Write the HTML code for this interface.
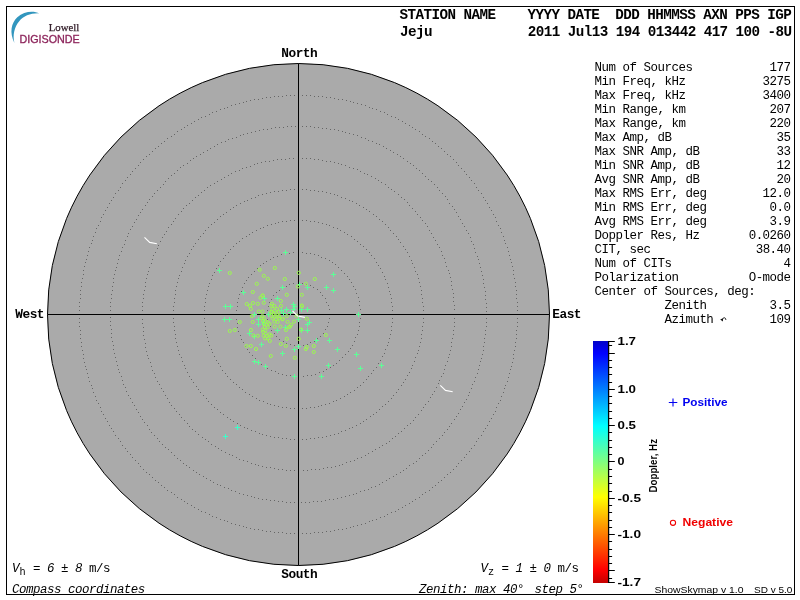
<!DOCTYPE html>
<html lang="en"><head><meta charset="utf-8"><title>Skymap - Jeju</title>
<style>html,body{margin:0;padding:0;background:#fff;width:800px;height:600px;overflow:hidden}svg{display:block;will-change:transform;opacity:0.9999}.m{font-family:"Liberation Mono",monospace}.s{font-family:"Liberation Sans",sans-serif}.r{font-family:"Liberation Serif",serif}</style></head><body>
<svg width="800" height="600" viewBox="0 0 800 600">
<defs><linearGradient id="jet" x1="0" y1="0" x2="0" y2="1">
<stop offset="0" stop-color="#0000c8"/>
<stop offset="0.05" stop-color="#0000ff"/>
<stop offset="0.352" stop-color="#00ffff"/>
<stop offset="0.5" stop-color="#80ff80"/>
<stop offset="0.645" stop-color="#ffff00"/>
<stop offset="0.945" stop-color="#ff0000"/>
<stop offset="1" stop-color="#c40000"/>
</linearGradient></defs>
<rect x="0" y="0" width="800" height="600" fill="#ffffff"/>
<rect x="6.5" y="6.5" width="788" height="588" fill="none" stroke="#000" stroke-width="1"/>
<circle cx="298.5" cy="314.5" r="251.0" fill="#aaaaaa" stroke="#000" stroke-width="1"/>
<path d="M329 314.5h1M329 318.5h1M328 322.5h1M327 326.5h1M325 329.5h1M323 333.5h1M320 336.5h1M317 338.5h1M314 341.5h1M310 342.5h1M307 344.5h1M303 345.5h1M298 345.5h1M294 345.5h1M290 344.5h1M286 343.5h1M283 341.5h1M279 339.5h1M276 336.5h1M274 333.5h1M271 330.5h1M270 326.5h1M268 323.5h1M267 319.5h1M267 314.5h1M267 310.5h1M268 306.5h1M269 302.5h1M271 299.5h1M273 295.5h1M276 292.5h1M279 290.5h1M282 287.5h1M286 286.5h1M289 284.5h1M293 283.5h1M298 283.5h1M302 283.5h1M306 284.5h1M310 285.5h1M313 287.5h1M317 289.5h1M320 292.5h1M322 295.5h1M325 298.5h1M326 302.5h1M328 305.5h1M329 309.5h1M360 314.5h1M360 318.5h1M359 322.5h1M359 326.5h1M358 330.5h1M357 334.5h1M355 337.5h1M354 341.5h1M352 345.5h1M350 348.5h1M348 351.5h1M345 354.5h1M342 357.5h1M339 360.5h1M336 363.5h1M333 365.5h1M330 367.5h1M326 369.5h1M323 371.5h1M319 372.5h1M315 374.5h1M311 375.5h1M307 375.5h1M303 376.5h1M298 376.5h1M294 376.5h1M290 375.5h1M286 375.5h1M282 374.5h1M278 373.5h1M275 371.5h1M271 370.5h1M267 368.5h1M264 366.5h1M261 364.5h1M258 361.5h1M255 358.5h1M252 355.5h1M249 352.5h1M247 349.5h1M245 346.5h1M243 342.5h1M241 339.5h1M240 335.5h1M238 331.5h1M237 327.5h1M237 323.5h1M236 319.5h1M236 314.5h1M236 310.5h1M237 306.5h1M237 302.5h1M238 298.5h1M239 294.5h1M241 291.5h1M242 287.5h1M244 283.5h1M246 280.5h1M248 277.5h1M251 274.5h1M254 271.5h1M257 268.5h1M260 265.5h1M263 263.5h1M266 261.5h1M270 259.5h1M273 257.5h1M277 256.5h1M281 254.5h1M285 253.5h1M289 253.5h1M293 252.5h1M298 252.5h1M302 252.5h1M306 253.5h1M310 253.5h1M314 254.5h1M318 255.5h1M321 257.5h1M325 258.5h1M329 260.5h1M332 262.5h1M335 264.5h1M338 267.5h1M341 270.5h1M344 273.5h1M347 276.5h1M349 279.5h1M351 282.5h1M353 286.5h1M355 289.5h1M356 293.5h1M358 297.5h1M359 301.5h1M359 305.5h1M360 309.5h1M392 314.5h1M392 318.5h1M392 322.5h1M391 326.5h1M391 330.5h1M390 334.5h1M389 338.5h1M388 342.5h1M387 345.5h1M385 349.5h1M384 353.5h1M382 356.5h1M380 360.5h1M378 363.5h1M376 367.5h1M373 370.5h1M371 373.5h1M368 376.5h1M366 379.5h1M363 382.5h1M360 385.5h1M357 387.5h1M354 390.5h1M350 392.5h1M347 394.5h1M344 396.5h1M340 398.5h1M336 400.5h1M333 401.5h1M329 403.5h1M325 404.5h1M321 405.5h1M318 406.5h1M314 407.5h1M310 407.5h1M306 408.5h1M302 408.5h1M298 408.5h1M294 408.5h1M290 408.5h1M286 407.5h1M282 407.5h1M278 406.5h1M274 405.5h1M270 404.5h1M267 403.5h1M263 401.5h1M259 400.5h1M256 398.5h1M252 396.5h1M249 394.5h1M245 392.5h1M242 389.5h1M239 387.5h1M236 384.5h1M233 382.5h1M230 379.5h1M227 376.5h1M225 373.5h1M222 370.5h1M220 366.5h1M218 363.5h1M216 360.5h1M214 356.5h1M212 352.5h1M211 349.5h1M209 345.5h1M208 341.5h1M207 337.5h1M206 334.5h1M205 330.5h1M205 326.5h1M204 322.5h1M204 318.5h1M204 314.5h1M204 310.5h1M204 306.5h1M205 302.5h1M205 298.5h1M206 294.5h1M207 290.5h1M208 286.5h1M209 283.5h1M211 279.5h1M212 275.5h1M214 272.5h1M216 268.5h1M218 265.5h1M220 261.5h1M223 258.5h1M225 255.5h1M228 252.5h1M230 249.5h1M233 246.5h1M236 243.5h1M239 241.5h1M242 238.5h1M246 236.5h1M249 234.5h1M252 232.5h1M256 230.5h1M260 228.5h1M263 227.5h1M267 225.5h1M271 224.5h1M275 223.5h1M278 222.5h1M282 221.5h1M286 221.5h1M290 220.5h1M294 220.5h1M298 220.5h1M302 220.5h1M306 220.5h1M310 221.5h1M314 221.5h1M318 222.5h1M322 223.5h1M326 224.5h1M329 225.5h1M333 227.5h1M337 228.5h1M340 230.5h1M344 232.5h1M347 234.5h1M351 236.5h1M354 239.5h1M357 241.5h1M360 244.5h1M363 246.5h1M366 249.5h1M369 252.5h1M371 255.5h1M374 258.5h1M376 262.5h1M378 265.5h1M380 268.5h1M382 272.5h1M384 276.5h1M385 279.5h1M387 283.5h1M388 287.5h1M389 291.5h1M390 294.5h1M391 298.5h1M391 302.5h1M392 306.5h1M392 310.5h1M423 314.5h1M423 318.5h1M423 322.5h1M422 326.5h1M422 330.5h1M421 334.5h1M421 338.5h1M420 342.5h1M419 346.5h1M418 350.5h1M417 353.5h1M415 357.5h1M414 361.5h1M412 365.5h1M411 368.5h1M409 372.5h1M407 375.5h1M405 379.5h1M403 382.5h1M401 385.5h1M398 389.5h1M396 392.5h1M393 395.5h1M391 398.5h1M388 401.5h1M385 404.5h1M382 406.5h1M379 409.5h1M376 412.5h1M373 414.5h1M370 416.5h1M366 419.5h1M363 421.5h1M360 423.5h1M356 425.5h1M352 427.5h1M349 428.5h1M345 430.5h1M341 431.5h1M338 433.5h1M334 434.5h1M330 435.5h1M326 436.5h1M322 437.5h1M318 437.5h1M314 438.5h1M310 438.5h1M306 439.5h1M302 439.5h1M298 439.5h1M294 439.5h1M290 439.5h1M286 438.5h1M282 438.5h1M278 437.5h1M274 437.5h1M270 436.5h1M266 435.5h1M262 434.5h1M259 433.5h1M255 431.5h1M251 430.5h1M247 428.5h1M244 427.5h1M240 425.5h1M237 423.5h1M233 421.5h1M230 419.5h1M227 417.5h1M223 414.5h1M220 412.5h1M217 409.5h1M214 407.5h1M211 404.5h1M208 401.5h1M206 398.5h1M203 395.5h1M200 392.5h1M198 389.5h1M196 386.5h1M193 382.5h1M191 379.5h1M189 376.5h1M187 372.5h1M185 368.5h1M184 365.5h1M182 361.5h1M181 357.5h1M179 354.5h1M178 350.5h1M177 346.5h1M176 342.5h1M175 338.5h1M175 334.5h1M174 330.5h1M174 326.5h1M173 322.5h1M173 318.5h1M173 314.5h1M173 310.5h1M173 306.5h1M174 302.5h1M174 298.5h1M175 294.5h1M175 290.5h1M176 286.5h1M177 282.5h1M178 278.5h1M179 275.5h1M181 271.5h1M182 267.5h1M184 263.5h1M185 260.5h1M187 256.5h1M189 253.5h1M191 249.5h1M193 246.5h1M195 243.5h1M198 239.5h1M200 236.5h1M203 233.5h1M205 230.5h1M208 227.5h1M211 224.5h1M214 222.5h1M217 219.5h1M220 216.5h1M223 214.5h1M226 212.5h1M230 209.5h1M233 207.5h1M236 205.5h1M240 203.5h1M244 201.5h1M247 200.5h1M251 198.5h1M255 197.5h1M258 195.5h1M262 194.5h1M266 193.5h1M270 192.5h1M274 191.5h1M278 191.5h1M282 190.5h1M286 190.5h1M290 189.5h1M294 189.5h1M298 189.5h1M302 189.5h1M306 189.5h1M310 190.5h1M314 190.5h1M318 191.5h1M322 191.5h1M326 192.5h1M330 193.5h1M334 194.5h1M337 195.5h1M341 197.5h1M345 198.5h1M349 200.5h1M352 201.5h1M356 203.5h1M359 205.5h1M363 207.5h1M366 209.5h1M369 211.5h1M373 214.5h1M376 216.5h1M379 219.5h1M382 221.5h1M385 224.5h1M388 227.5h1M390 230.5h1M393 233.5h1M396 236.5h1M398 239.5h1M400 242.5h1M403 246.5h1M405 249.5h1M407 252.5h1M409 256.5h1M411 260.5h1M412 263.5h1M414 267.5h1M415 271.5h1M417 274.5h1M418 278.5h1M419 282.5h1M420 286.5h1M421 290.5h1M421 294.5h1M422 298.5h1M422 302.5h1M423 306.5h1M423 310.5h1M454 314.5h1M454 318.5h1M454 322.5h1M454 326.5h1M453 330.5h1M453 334.5h1M452 338.5h1M451 342.5h1M451 346.5h1M450 350.5h1M449 354.5h1M448 357.5h1M447 361.5h1M445 365.5h1M444 369.5h1M443 373.5h1M441 376.5h1M439 380.5h1M438 383.5h1M436 387.5h1M434 391.5h1M432 394.5h1M430 397.5h1M428 401.5h1M425 404.5h1M423 407.5h1M421 410.5h1M418 414.5h1M415 417.5h1M413 420.5h1M410 423.5h1M407 425.5h1M404 428.5h1M401 431.5h1M398 433.5h1M395 436.5h1M392 438.5h1M389 441.5h1M386 443.5h1M382 445.5h1M379 447.5h1M375 449.5h1M372 451.5h1M368 453.5h1M365 455.5h1M361 457.5h1M357 458.5h1M354 460.5h1M350 461.5h1M346 462.5h1M342 464.5h1M339 465.5h1M335 466.5h1M331 467.5h1M327 467.5h1M323 468.5h1M319 469.5h1M315 469.5h1M311 469.5h1M307 470.5h1M303 470.5h1M298 470.5h1M294 470.5h1M290 470.5h1M286 470.5h1M282 469.5h1M278 469.5h1M274 468.5h1M270 467.5h1M266 467.5h1M262 466.5h1M258 465.5h1M255 464.5h1M251 463.5h1M247 461.5h1M243 460.5h1M239 459.5h1M236 457.5h1M232 455.5h1M229 454.5h1M225 452.5h1M221 450.5h1M218 448.5h1M215 446.5h1M211 444.5h1M208 441.5h1M205 439.5h1M202 437.5h1M198 434.5h1M195 431.5h1M192 429.5h1M189 426.5h1M187 423.5h1M184 420.5h1M181 417.5h1M179 414.5h1M176 411.5h1M174 408.5h1M171 405.5h1M169 402.5h1M167 398.5h1M165 395.5h1M163 391.5h1M161 388.5h1M159 384.5h1M157 381.5h1M155 377.5h1M154 373.5h1M152 370.5h1M151 366.5h1M150 362.5h1M148 358.5h1M147 355.5h1M146 351.5h1M145 347.5h1M145 343.5h1M144 339.5h1M143 335.5h1M143 331.5h1M143 327.5h1M142 323.5h1M142 319.5h1M142 314.5h1M142 310.5h1M142 306.5h1M142 302.5h1M143 298.5h1M143 294.5h1M144 290.5h1M145 286.5h1M145 282.5h1M146 278.5h1M147 274.5h1M148 271.5h1M149 267.5h1M151 263.5h1M152 259.5h1M153 255.5h1M155 252.5h1M157 248.5h1M158 245.5h1M160 241.5h1M162 237.5h1M164 234.5h1M166 231.5h1M168 227.5h1M171 224.5h1M173 221.5h1M175 218.5h1M178 214.5h1M181 211.5h1M183 208.5h1M186 205.5h1M189 203.5h1M192 200.5h1M195 197.5h1M198 195.5h1M201 192.5h1M204 190.5h1M207 187.5h1M210 185.5h1M214 183.5h1M217 181.5h1M221 179.5h1M224 177.5h1M228 175.5h1M231 173.5h1M235 171.5h1M239 170.5h1M242 168.5h1M246 167.5h1M250 166.5h1M254 164.5h1M257 163.5h1M261 162.5h1M265 161.5h1M269 161.5h1M273 160.5h1M277 159.5h1M281 159.5h1M285 159.5h1M289 158.5h1M293 158.5h1M298 158.5h1M302 158.5h1M306 158.5h1M310 158.5h1M314 159.5h1M318 159.5h1M322 160.5h1M326 161.5h1M330 161.5h1M334 162.5h1M338 163.5h1M341 164.5h1M345 165.5h1M349 167.5h1M353 168.5h1M357 169.5h1M360 171.5h1M364 173.5h1M367 174.5h1M371 176.5h1M375 178.5h1M378 180.5h1M381 182.5h1M385 184.5h1M388 187.5h1M391 189.5h1M394 191.5h1M398 194.5h1M401 197.5h1M404 199.5h1M407 202.5h1M409 205.5h1M412 208.5h1M415 211.5h1M417 214.5h1M420 217.5h1M422 220.5h1M425 223.5h1M427 226.5h1M429 230.5h1M431 233.5h1M433 237.5h1M435 240.5h1M437 244.5h1M439 247.5h1M441 251.5h1M442 255.5h1M444 258.5h1M445 262.5h1M446 266.5h1M448 270.5h1M449 273.5h1M450 277.5h1M451 281.5h1M451 285.5h1M452 289.5h1M453 293.5h1M453 297.5h1M453 301.5h1M454 305.5h1M454 309.5h1M486 314.5h1M486 318.5h1M486 322.5h1M486 326.5h1M485 330.5h1M485 334.5h1M484 338.5h1M484 342.5h1M483 346.5h1M483 350.5h1M482 354.5h1M481 358.5h1M480 361.5h1M479 365.5h1M478 369.5h1M477 373.5h1M475 377.5h1M474 381.5h1M472 384.5h1M471 388.5h1M469 392.5h1M468 395.5h1M466 399.5h1M464 402.5h1M462 406.5h1M460 409.5h1M458 413.5h1M456 416.5h1M454 419.5h1M451 423.5h1M449 426.5h1M447 429.5h1M444 432.5h1M442 435.5h1M439 438.5h1M436 441.5h1M433 444.5h1M431 447.5h1M428 450.5h1M425 453.5h1M422 455.5h1M419 458.5h1M416 461.5h1M413 463.5h1M409 465.5h1M406 468.5h1M403 470.5h1M400 472.5h1M396 474.5h1M393 476.5h1M389 478.5h1M386 480.5h1M382 482.5h1M379 484.5h1M375 486.5h1M371 487.5h1M368 489.5h1M364 490.5h1M360 491.5h1M356 493.5h1M353 494.5h1M349 495.5h1M345 496.5h1M341 497.5h1M337 498.5h1M333 499.5h1M329 499.5h1M325 500.5h1M321 501.5h1M317 501.5h1M313 501.5h1M309 502.5h1M305 502.5h1M301 502.5h1M298 502.5h1M294 502.5h1M290 502.5h1M286 502.5h1M282 501.5h1M278 501.5h1M274 500.5h1M270 500.5h1M266 499.5h1M262 499.5h1M258 498.5h1M254 497.5h1M251 496.5h1M247 495.5h1M243 494.5h1M239 493.5h1M235 491.5h1M231 490.5h1M228 488.5h1M224 487.5h1M220 485.5h1M217 484.5h1M213 482.5h1M210 480.5h1M206 478.5h1M203 476.5h1M199 474.5h1M196 472.5h1M193 470.5h1M189 467.5h1M186 465.5h1M183 463.5h1M180 460.5h1M177 458.5h1M174 455.5h1M171 452.5h1M168 449.5h1M165 447.5h1M162 444.5h1M159 441.5h1M157 438.5h1M154 435.5h1M151 432.5h1M149 429.5h1M147 425.5h1M144 422.5h1M142 419.5h1M140 416.5h1M138 412.5h1M136 409.5h1M134 405.5h1M132 402.5h1M130 398.5h1M128 395.5h1M126 391.5h1M125 387.5h1M123 384.5h1M122 380.5h1M121 376.5h1M119 372.5h1M118 369.5h1M117 365.5h1M116 361.5h1M115 357.5h1M114 353.5h1M113 349.5h1M113 345.5h1M112 341.5h1M111 337.5h1M111 333.5h1M111 329.5h1M110 325.5h1M110 321.5h1M110 317.5h1M110 314.5h1M110 310.5h1M110 306.5h1M110 302.5h1M111 298.5h1M111 294.5h1M112 290.5h1M112 286.5h1M113 282.5h1M113 278.5h1M114 274.5h1M115 270.5h1M116 267.5h1M117 263.5h1M118 259.5h1M119 255.5h1M121 251.5h1M122 247.5h1M124 244.5h1M125 240.5h1M127 236.5h1M128 233.5h1M130 229.5h1M132 226.5h1M134 222.5h1M136 219.5h1M138 215.5h1M140 212.5h1M142 209.5h1M145 205.5h1M147 202.5h1M149 199.5h1M152 196.5h1M154 193.5h1M157 190.5h1M160 187.5h1M163 184.5h1M165 181.5h1M168 178.5h1M171 175.5h1M174 173.5h1M177 170.5h1M180 167.5h1M183 165.5h1M187 163.5h1M190 160.5h1M193 158.5h1M196 156.5h1M200 154.5h1M203 152.5h1M207 150.5h1M210 148.5h1M214 146.5h1M217 144.5h1M221 142.5h1M225 141.5h1M228 139.5h1M232 138.5h1M236 137.5h1M240 135.5h1M243 134.5h1M247 133.5h1M251 132.5h1M255 131.5h1M259 130.5h1M263 129.5h1M267 129.5h1M271 128.5h1M275 127.5h1M279 127.5h1M283 127.5h1M287 126.5h1M291 126.5h1M295 126.5h1M298 126.5h1M302 126.5h1M306 126.5h1M310 126.5h1M314 127.5h1M318 127.5h1M322 128.5h1M326 128.5h1M330 129.5h1M334 129.5h1M338 130.5h1M342 131.5h1M345 132.5h1M349 133.5h1M353 134.5h1M357 135.5h1M361 137.5h1M365 138.5h1M368 140.5h1M372 141.5h1M376 143.5h1M379 144.5h1M383 146.5h1M386 148.5h1M390 150.5h1M393 152.5h1M397 154.5h1M400 156.5h1M403 158.5h1M407 161.5h1M410 163.5h1M413 165.5h1M416 168.5h1M419 170.5h1M422 173.5h1M425 176.5h1M428 179.5h1M431 181.5h1M434 184.5h1M437 187.5h1M439 190.5h1M442 193.5h1M445 196.5h1M447 199.5h1M449 203.5h1M452 206.5h1M454 209.5h1M456 212.5h1M458 216.5h1M460 219.5h1M462 223.5h1M464 226.5h1M466 230.5h1M468 233.5h1M470 237.5h1M471 241.5h1M473 244.5h1M474 248.5h1M475 252.5h1M477 256.5h1M478 259.5h1M479 263.5h1M480 267.5h1M481 271.5h1M482 275.5h1M483 279.5h1M483 283.5h1M484 287.5h1M485 291.5h1M485 295.5h1M485 299.5h1M486 303.5h1M486 307.5h1M486 311.5h1M517 314.5h1M517 318.5h1M517 322.5h1M517 326.5h1M516 330.5h1M516 334.5h1M516 338.5h1M515 342.5h1M515 346.5h1M514 350.5h1M513 354.5h1M513 358.5h1M512 362.5h1M511 366.5h1M510 369.5h1M509 373.5h1M508 377.5h1M507 381.5h1M505 385.5h1M504 388.5h1M503 392.5h1M501 396.5h1M500 400.5h1M498 403.5h1M496 407.5h1M495 411.5h1M493 414.5h1M491 418.5h1M489 421.5h1M487 425.5h1M485 428.5h1M483 431.5h1M481 435.5h1M478 438.5h1M476 441.5h1M474 445.5h1M471 448.5h1M469 451.5h1M466 454.5h1M464 457.5h1M461 460.5h1M458 463.5h1M456 466.5h1M453 469.5h1M450 472.5h1M447 474.5h1M444 477.5h1M441 480.5h1M438 482.5h1M435 485.5h1M432 487.5h1M429 490.5h1M425 492.5h1M422 494.5h1M419 497.5h1M415 499.5h1M412 501.5h1M409 503.5h1M405 505.5h1M402 507.5h1M398 509.5h1M395 511.5h1M391 512.5h1M387 514.5h1M384 516.5h1M380 517.5h1M376 519.5h1M372 520.5h1M369 521.5h1M365 523.5h1M361 524.5h1M357 525.5h1M353 526.5h1M350 527.5h1M346 528.5h1M342 529.5h1M338 529.5h1M334 530.5h1M330 531.5h1M326 531.5h1M322 532.5h1M318 532.5h1M314 532.5h1M310 533.5h1M306 533.5h1M302 533.5h1M298 533.5h1M294 533.5h1M290 533.5h1M286 533.5h1M282 532.5h1M278 532.5h1M274 532.5h1M270 531.5h1M266 531.5h1M262 530.5h1M258 529.5h1M254 529.5h1M250 528.5h1M246 527.5h1M243 526.5h1M239 525.5h1M235 524.5h1M231 523.5h1M227 521.5h1M224 520.5h1M220 519.5h1M216 517.5h1M212 516.5h1M209 514.5h1M205 512.5h1M201 511.5h1M198 509.5h1M194 507.5h1M191 505.5h1M187 503.5h1M184 501.5h1M181 499.5h1M177 497.5h1M174 494.5h1M171 492.5h1M167 490.5h1M164 487.5h1M161 485.5h1M158 482.5h1M155 480.5h1M152 477.5h1M149 474.5h1M146 472.5h1M143 469.5h1M140 466.5h1M138 463.5h1M135 460.5h1M132 457.5h1M130 454.5h1M127 451.5h1M125 448.5h1M122 445.5h1M120 441.5h1M118 438.5h1M115 435.5h1M113 431.5h1M111 428.5h1M109 425.5h1M107 421.5h1M105 418.5h1M103 414.5h1M101 411.5h1M100 407.5h1M98 403.5h1M96 400.5h1M95 396.5h1M93 392.5h1M92 388.5h1M91 385.5h1M89 381.5h1M88 377.5h1M87 373.5h1M86 369.5h1M85 366.5h1M84 362.5h1M83 358.5h1M83 354.5h1M82 350.5h1M81 346.5h1M81 342.5h1M80 338.5h1M80 334.5h1M80 330.5h1M79 326.5h1M79 322.5h1M79 318.5h1M79 314.5h1M79 310.5h1M79 306.5h1M79 302.5h1M80 298.5h1M80 294.5h1M80 290.5h1M81 286.5h1M81 282.5h1M82 278.5h1M83 274.5h1M83 270.5h1M84 266.5h1M85 262.5h1M86 259.5h1M87 255.5h1M88 251.5h1M89 247.5h1M91 243.5h1M92 240.5h1M93 236.5h1M95 232.5h1M96 228.5h1M98 225.5h1M100 221.5h1M101 217.5h1M103 214.5h1M105 210.5h1M107 207.5h1M109 203.5h1M111 200.5h1M113 197.5h1M115 193.5h1M118 190.5h1M120 187.5h1M122 183.5h1M125 180.5h1M127 177.5h1M130 174.5h1M132 171.5h1M135 168.5h1M138 165.5h1M140 162.5h1M143 159.5h1M146 156.5h1M149 154.5h1M152 151.5h1M155 148.5h1M158 146.5h1M161 143.5h1M164 141.5h1M167 138.5h1M171 136.5h1M174 134.5h1M177 131.5h1M181 129.5h1M184 127.5h1M187 125.5h1M191 123.5h1M194 121.5h1M198 119.5h1M201 117.5h1M205 116.5h1M209 114.5h1M212 112.5h1M216 111.5h1M220 109.5h1M224 108.5h1M227 107.5h1M231 105.5h1M235 104.5h1M239 103.5h1M243 102.5h1M246 101.5h1M250 100.5h1M254 99.5h1M258 99.5h1M262 98.5h1M266 97.5h1M270 97.5h1M274 96.5h1M278 96.5h1M282 96.5h1M286 95.5h1M290 95.5h1M294 95.5h1M298 95.5h1M302 95.5h1M306 95.5h1M310 95.5h1M314 96.5h1M318 96.5h1M322 96.5h1M326 97.5h1M330 97.5h1M334 98.5h1M338 99.5h1M342 99.5h1M346 100.5h1M350 101.5h1M353 102.5h1M357 103.5h1M361 104.5h1M365 105.5h1M369 107.5h1M372 108.5h1M376 109.5h1M380 111.5h1M384 112.5h1M387 114.5h1M391 116.5h1M395 117.5h1M398 119.5h1M402 121.5h1M405 123.5h1M409 125.5h1M412 127.5h1M415 129.5h1M419 131.5h1M422 134.5h1M425 136.5h1M429 138.5h1M432 141.5h1M435 143.5h1M438 146.5h1M441 148.5h1M444 151.5h1M447 154.5h1M450 156.5h1M453 159.5h1M456 162.5h1M458 165.5h1M461 168.5h1M464 171.5h1M466 174.5h1M469 177.5h1M471 180.5h1M474 183.5h1M476 187.5h1M478 190.5h1M481 193.5h1M483 197.5h1M485 200.5h1M487 203.5h1M489 207.5h1M491 210.5h1M493 214.5h1M495 217.5h1M496 221.5h1M498 225.5h1M500 228.5h1M501 232.5h1M503 236.5h1M504 240.5h1M505 243.5h1M507 247.5h1M508 251.5h1M509 255.5h1M510 259.5h1M511 262.5h1M512 266.5h1M513 270.5h1M513 274.5h1M514 278.5h1M515 282.5h1M515 286.5h1M516 290.5h1M516 294.5h1M516 298.5h1M517 302.5h1M517 306.5h1M517 310.5h1" stroke="#666666" stroke-width="1" fill="none" shape-rendering="crispEdges"/>
<line x1="298.5" y1="63.5" x2="298.5" y2="565.5" stroke="#000" stroke-width="1"/>
<line x1="47.5" y1="314.5" x2="549.5" y2="314.5" stroke="#000" stroke-width="1"/>
<path d="M217.0 270.5h5M219.5 268.0v5M283.0 252.5h5M285.5 250.0v5M280.0 287.5h5M282.5 285.0v5M241.0 292.5h5M243.5 290.0v5M262.0 298.5h5M264.5 296.0v5M275.0 298.5h5M277.5 296.0v5M331.0 274.5h5M333.5 272.0v5M297.0 284.5h5M299.5 282.0v5M305.0 287.5h5M307.5 285.0v5M324.0 287.5h5M326.5 285.0v5M331.0 290.5h5M333.5 288.0v5M223.0 306.5h5M225.5 304.0v5M228.0 306.5h5M230.5 304.0v5M222.0 319.5h5M224.5 317.0v5M227.0 319.5h5M229.5 317.0v5M252.0 314.5h5M254.5 312.0v5M256.0 319.5h5M258.5 317.0v5M256.0 324.5h5M258.5 322.0v5M247.0 333.5h5M249.5 331.0v5M252.0 336.5h5M254.5 334.0v5M259.0 344.5h5M261.5 342.0v5M280.0 353.5h5M282.5 351.0v5M291.0 304.5h5M293.5 302.0v5M292.0 306.5h5M294.5 304.0v5M284.0 309.5h5M286.5 307.0v5M291.0 309.5h5M293.5 307.0v5M279.0 310.5h5M281.5 308.0v5M288.0 312.5h5M290.5 310.0v5M281.0 313.5h5M283.5 311.0v5M299.0 309.5h5M301.5 307.0v5M305.0 309.5h5M307.5 307.0v5M356.0 314.5h5M358.5 312.0v5M296.0 319.5h5M298.5 317.0v5M307.0 322.5h5M309.5 320.0v5M305.0 324.5h5M307.5 322.0v5M299.0 330.5h5M301.5 328.0v5M305.0 330.5h5M307.5 328.0v5M314.0 340.5h5M316.5 338.0v5M327.0 340.5h5M329.5 338.0v5M296.0 346.5h5M298.5 344.0v5M292.0 349.5h5M294.5 347.0v5M335.0 349.5h5M337.5 347.0v5M354.0 354.5h5M356.5 352.0v5M275.0 330.5h5M277.5 328.0v5M283.0 327.5h5M285.5 325.0v5M252.0 361.5h5M254.5 359.0v5M256.0 362.5h5M258.5 360.0v5M263.0 366.5h5M265.5 364.0v5M292.0 376.5h5M294.5 374.0v5M326.0 365.5h5M328.5 363.0v5M358.0 368.5h5M360.5 366.0v5M379.0 365.5h5M381.5 363.0v5M319.0 376.5h5M321.5 374.0v5M266.0 314.5h5M268.5 312.0v5M261.0 322.5h5M263.5 320.0v5" stroke="#5cff96" stroke-width="1" fill="none" shape-rendering="crispEdges"/>
<path d="M235.0 427.5h5M237.5 425.0v5M223.0 436.5h5M225.5 434.0v5" stroke="#3cffc8" stroke-width="1" fill="none" shape-rendering="crispEdges"/>
<g fill="none" stroke="#9cf752" stroke-width="1">
<circle cx="229.8" cy="273.0" r="1.6"/>
<circle cx="259.7" cy="269.8" r="1.6"/>
<circle cx="274.8" cy="268.0" r="1.6"/>
<circle cx="263.8" cy="275.8" r="1.6"/>
<circle cx="267.8" cy="278.8" r="1.6"/>
<circle cx="284.8" cy="279.0" r="1.6"/>
<circle cx="256.8" cy="283.8" r="1.6"/>
<circle cx="252.8" cy="292.0" r="1.6"/>
<circle cx="286.8" cy="294.8" r="1.6"/>
<circle cx="262.5" cy="295.5" r="1.6"/>
<circle cx="260.5" cy="297.8" r="1.6"/>
<circle cx="298.8" cy="272.8" r="1.6"/>
<circle cx="314.8" cy="279.0" r="1.6"/>
<circle cx="305.8" cy="283.7" r="1.6"/>
<circle cx="297.8" cy="286.5" r="1.6"/>
<circle cx="301.8" cy="294.8" r="1.6"/>
<circle cx="239.8" cy="322.0" r="1.6"/>
<circle cx="229.8" cy="331.0" r="1.6"/>
<circle cx="234.8" cy="330.0" r="1.6"/>
<circle cx="246.8" cy="304.0" r="1.6"/>
<circle cx="253.0" cy="303.0" r="1.6"/>
<circle cx="250.8" cy="308.8" r="1.6"/>
<circle cx="257.8" cy="303.8" r="1.6"/>
<circle cx="263.8" cy="302.8" r="1.6"/>
<circle cx="280.8" cy="301.0" r="1.6"/>
<circle cx="258.8" cy="311.5" r="1.6"/>
<circle cx="262.5" cy="311.5" r="1.6"/>
<circle cx="251.8" cy="316.0" r="1.6"/>
<circle cx="252.8" cy="322.0" r="1.6"/>
<circle cx="251.0" cy="330.0" r="1.6"/>
<circle cx="253.5" cy="335.5" r="1.6"/>
<circle cx="257.8" cy="335.8" r="1.6"/>
<circle cx="246.5" cy="346.0" r="1.6"/>
<circle cx="250.8" cy="346.0" r="1.6"/>
<circle cx="256.0" cy="349.0" r="1.6"/>
<circle cx="280.8" cy="344.0" r="1.6"/>
<circle cx="285.8" cy="345.8" r="1.6"/>
<circle cx="286.8" cy="338.8" r="1.6"/>
<circle cx="269.8" cy="341.0" r="1.6"/>
<circle cx="272.0" cy="303.8" r="1.6"/>
<circle cx="271.4" cy="305.9" r="1.6"/>
<circle cx="274.4" cy="305.9" r="1.6"/>
<circle cx="281.0" cy="305.9" r="1.6"/>
<circle cx="277.1" cy="308.9" r="1.6"/>
<circle cx="272.6" cy="308.9" r="1.6"/>
<circle cx="272.0" cy="311.9" r="1.6"/>
<circle cx="302.0" cy="306.2" r="1.6"/>
<circle cx="296.6" cy="315.8" r="1.6"/>
<circle cx="286.7" cy="316.1" r="1.6"/>
<circle cx="282.8" cy="319.1" r="1.6"/>
<circle cx="287.6" cy="321.8" r="1.6"/>
<circle cx="290.0" cy="326.6" r="1.6"/>
<circle cx="288.8" cy="327.2" r="1.6"/>
<circle cx="280.4" cy="326.6" r="1.6"/>
<circle cx="274.7" cy="326.6" r="1.6"/>
<circle cx="301.1" cy="329.6" r="1.6"/>
<circle cx="301.8" cy="305.5" r="1.6"/>
<circle cx="306.8" cy="318.8" r="1.6"/>
<circle cx="325.8" cy="335.0" r="1.6"/>
<circle cx="298.8" cy="338.8" r="1.6"/>
<circle cx="306.8" cy="347.0" r="1.6"/>
<circle cx="305.8" cy="349.0" r="1.6"/>
<circle cx="313.8" cy="346.0" r="1.6"/>
<circle cx="313.8" cy="352.0" r="1.6"/>
<circle cx="270.8" cy="356.0" r="1.6"/>
<circle cx="294.8" cy="357.8" r="1.6"/>
<circle cx="286.0" cy="330.0" r="1.6"/>
<circle cx="262.4" cy="316.0" r="1.6"/>
<circle cx="264.0" cy="318.4" r="1.6"/>
<circle cx="263.2" cy="320.8" r="1.6"/>
<circle cx="265.6" cy="321.6" r="1.6"/>
<circle cx="264.0" cy="324.0" r="1.6"/>
<circle cx="266.4" cy="324.8" r="1.6"/>
<circle cx="264.8" cy="327.2" r="1.6"/>
<circle cx="267.6" cy="327.2" r="1.6"/>
<circle cx="262.8" cy="329.6" r="1.6"/>
<circle cx="265.2" cy="330.4" r="1.6"/>
<circle cx="263.2" cy="332.0" r="1.6"/>
<circle cx="265.6" cy="333.6" r="1.6"/>
<circle cx="263.6" cy="335.6" r="1.6"/>
<circle cx="266.8" cy="336.0" r="1.6"/>
<circle cx="269.6" cy="334.4" r="1.6"/>
<circle cx="271.2" cy="335.6" r="1.6"/>
<circle cx="265.2" cy="338.4" r="1.6"/>
<circle cx="268.0" cy="338.4" r="1.6"/>
<circle cx="269.6" cy="324.0" r="1.6"/>
<circle cx="268.0" cy="322.4" r="1.6"/>
<circle cx="261.6" cy="318.4" r="1.6"/>
<circle cx="271.2" cy="312.0" r="1.6"/>
<circle cx="273.6" cy="313.6" r="1.6"/>
<circle cx="276.0" cy="312.8" r="1.6"/>
<circle cx="278.4" cy="312.0" r="1.6"/>
<circle cx="271.6" cy="316.0" r="1.6"/>
<circle cx="274.4" cy="316.8" r="1.6"/>
<circle cx="277.6" cy="316.8" r="1.6"/>
<circle cx="272.8" cy="318.4" r="1.6"/>
<circle cx="276.0" cy="319.2" r="1.6"/>
<circle cx="279.2" cy="318.4" r="1.6"/>
<circle cx="274.4" cy="321.6" r="1.6"/>
<circle cx="277.6" cy="322.0" r="1.6"/>
<circle cx="282.4" cy="319.2" r="1.6"/>
<circle cx="279.2" cy="316.0" r="1.6"/>
<circle cx="262.8" cy="295.6" r="1.6"/>
<circle cx="250.0" cy="306.0" r="1.6"/>
<circle cx="291.2" cy="324.8" r="1.6"/>
<circle cx="294.0" cy="321.6" r="1.6"/>
</g>
<polyline points="144.5,237.3 149.7,242.4 156.9,243.70000000000002" fill="none" stroke="#ffffff" stroke-width="1.1"/>
<polyline points="440.3,385.3 445.5,390.40000000000003 452.7,391.7" fill="none" stroke="#ffffff" stroke-width="1.1"/>
<polyline points="292.5,311.0 297.7,316.1 304.9,317.4" fill="none" stroke="#ffffff" stroke-width="1.1"/>
<text class="m" transform="translate(281.3,57) scale(1,1.035)" text-anchor="start" style="font-size:12.840px;letter-spacing:-0.504px;font-weight:bold;white-space:pre" xml:space="preserve" fill="#000">North</text>
<text class="m" transform="translate(281.3,578) scale(1,1.035)" text-anchor="start" style="font-size:12.840px;letter-spacing:-0.504px;font-weight:bold;white-space:pre" xml:space="preserve" fill="#000">South</text>
<text class="m" transform="translate(15.3,318) scale(1,1.035)" text-anchor="start" style="font-size:12.840px;letter-spacing:-0.504px;font-weight:bold;white-space:pre" xml:space="preserve" fill="#000">West</text>
<text class="m" transform="translate(552.3,318) scale(1,1.035)" text-anchor="start" style="font-size:12.840px;letter-spacing:-0.504px;font-weight:bold;white-space:pre" xml:space="preserve" fill="#000">East</text>
<text class="m" transform="translate(399.6,19) scale(1,1.035)" text-anchor="start" style="font-size:14.267px;letter-spacing:-0.560px;font-weight:bold;white-space:pre" xml:space="preserve" fill="#000">STATION NAME    YYYY DATE  DDD HHMMSS AXN PPS IGP</text>
<text class="m" transform="translate(400,35.7) scale(1,1.035)" text-anchor="start" style="font-size:14.267px;letter-spacing:-0.560px;font-weight:bold;white-space:pre" xml:space="preserve" fill="#000">Jeju            2011 Jul13 194 013442 417 100 -8U</text>
<text class="m" transform="translate(594.5,71) scale(1,1.035)" text-anchor="start" style="font-size:12.483px;letter-spacing:-0.490px;white-space:pre" xml:space="preserve" fill="#000">Num of Sources</text>
<text class="m" transform="translate(790.6,71) scale(1,1.035)" text-anchor="end" style="font-size:12.483px;letter-spacing:-0.490px;white-space:pre" xml:space="preserve" fill="#000">177</text>
<text class="m" transform="translate(594.5,85) scale(1,1.035)" text-anchor="start" style="font-size:12.483px;letter-spacing:-0.490px;white-space:pre" xml:space="preserve" fill="#000">Min Freq, kHz</text>
<text class="m" transform="translate(790.6,85) scale(1,1.035)" text-anchor="end" style="font-size:12.483px;letter-spacing:-0.490px;white-space:pre" xml:space="preserve" fill="#000">3275</text>
<text class="m" transform="translate(594.5,99) scale(1,1.035)" text-anchor="start" style="font-size:12.483px;letter-spacing:-0.490px;white-space:pre" xml:space="preserve" fill="#000">Max Freq, kHz</text>
<text class="m" transform="translate(790.6,99) scale(1,1.035)" text-anchor="end" style="font-size:12.483px;letter-spacing:-0.490px;white-space:pre" xml:space="preserve" fill="#000">3400</text>
<text class="m" transform="translate(594.5,113) scale(1,1.035)" text-anchor="start" style="font-size:12.483px;letter-spacing:-0.490px;white-space:pre" xml:space="preserve" fill="#000">Min Range, km</text>
<text class="m" transform="translate(790.6,113) scale(1,1.035)" text-anchor="end" style="font-size:12.483px;letter-spacing:-0.490px;white-space:pre" xml:space="preserve" fill="#000">207</text>
<text class="m" transform="translate(594.5,127) scale(1,1.035)" text-anchor="start" style="font-size:12.483px;letter-spacing:-0.490px;white-space:pre" xml:space="preserve" fill="#000">Max Range, km</text>
<text class="m" transform="translate(790.6,127) scale(1,1.035)" text-anchor="end" style="font-size:12.483px;letter-spacing:-0.490px;white-space:pre" xml:space="preserve" fill="#000">220</text>
<text class="m" transform="translate(594.5,141) scale(1,1.035)" text-anchor="start" style="font-size:12.483px;letter-spacing:-0.490px;white-space:pre" xml:space="preserve" fill="#000">Max Amp, dB</text>
<text class="m" transform="translate(790.6,141) scale(1,1.035)" text-anchor="end" style="font-size:12.483px;letter-spacing:-0.490px;white-space:pre" xml:space="preserve" fill="#000">35</text>
<text class="m" transform="translate(594.5,155) scale(1,1.035)" text-anchor="start" style="font-size:12.483px;letter-spacing:-0.490px;white-space:pre" xml:space="preserve" fill="#000">Max SNR Amp, dB</text>
<text class="m" transform="translate(790.6,155) scale(1,1.035)" text-anchor="end" style="font-size:12.483px;letter-spacing:-0.490px;white-space:pre" xml:space="preserve" fill="#000">33</text>
<text class="m" transform="translate(594.5,169) scale(1,1.035)" text-anchor="start" style="font-size:12.483px;letter-spacing:-0.490px;white-space:pre" xml:space="preserve" fill="#000">Min SNR Amp, dB</text>
<text class="m" transform="translate(790.6,169) scale(1,1.035)" text-anchor="end" style="font-size:12.483px;letter-spacing:-0.490px;white-space:pre" xml:space="preserve" fill="#000">12</text>
<text class="m" transform="translate(594.5,183) scale(1,1.035)" text-anchor="start" style="font-size:12.483px;letter-spacing:-0.490px;white-space:pre" xml:space="preserve" fill="#000">Avg SNR Amp, dB</text>
<text class="m" transform="translate(790.6,183) scale(1,1.035)" text-anchor="end" style="font-size:12.483px;letter-spacing:-0.490px;white-space:pre" xml:space="preserve" fill="#000">20</text>
<text class="m" transform="translate(594.5,197) scale(1,1.035)" text-anchor="start" style="font-size:12.483px;letter-spacing:-0.490px;white-space:pre" xml:space="preserve" fill="#000">Max RMS Err, deg</text>
<text class="m" transform="translate(790.6,197) scale(1,1.035)" text-anchor="end" style="font-size:12.483px;letter-spacing:-0.490px;white-space:pre" xml:space="preserve" fill="#000">12.0</text>
<text class="m" transform="translate(594.5,211) scale(1,1.035)" text-anchor="start" style="font-size:12.483px;letter-spacing:-0.490px;white-space:pre" xml:space="preserve" fill="#000">Min RMS Err, deg</text>
<text class="m" transform="translate(790.6,211) scale(1,1.035)" text-anchor="end" style="font-size:12.483px;letter-spacing:-0.490px;white-space:pre" xml:space="preserve" fill="#000">0.0</text>
<text class="m" transform="translate(594.5,225) scale(1,1.035)" text-anchor="start" style="font-size:12.483px;letter-spacing:-0.490px;white-space:pre" xml:space="preserve" fill="#000">Avg RMS Err, deg</text>
<text class="m" transform="translate(790.6,225) scale(1,1.035)" text-anchor="end" style="font-size:12.483px;letter-spacing:-0.490px;white-space:pre" xml:space="preserve" fill="#000">3.9</text>
<text class="m" transform="translate(594.5,239) scale(1,1.035)" text-anchor="start" style="font-size:12.483px;letter-spacing:-0.490px;white-space:pre" xml:space="preserve" fill="#000">Doppler Res, Hz</text>
<text class="m" transform="translate(790.6,239) scale(1,1.035)" text-anchor="end" style="font-size:12.483px;letter-spacing:-0.490px;white-space:pre" xml:space="preserve" fill="#000">0.0260</text>
<text class="m" transform="translate(594.5,253) scale(1,1.035)" text-anchor="start" style="font-size:12.483px;letter-spacing:-0.490px;white-space:pre" xml:space="preserve" fill="#000">CIT, sec</text>
<text class="m" transform="translate(790.6,253) scale(1,1.035)" text-anchor="end" style="font-size:12.483px;letter-spacing:-0.490px;white-space:pre" xml:space="preserve" fill="#000">38.40</text>
<text class="m" transform="translate(594.5,267) scale(1,1.035)" text-anchor="start" style="font-size:12.483px;letter-spacing:-0.490px;white-space:pre" xml:space="preserve" fill="#000">Num of CITs</text>
<text class="m" transform="translate(790.6,267) scale(1,1.035)" text-anchor="end" style="font-size:12.483px;letter-spacing:-0.490px;white-space:pre" xml:space="preserve" fill="#000">4</text>
<text class="m" transform="translate(594.5,281) scale(1,1.035)" text-anchor="start" style="font-size:12.483px;letter-spacing:-0.490px;white-space:pre" xml:space="preserve" fill="#000">Polarization</text>
<text class="m" transform="translate(790.6,281) scale(1,1.035)" text-anchor="end" style="font-size:12.483px;letter-spacing:-0.490px;white-space:pre" xml:space="preserve" fill="#000">O-mode</text>
<text class="m" transform="translate(594.5,295) scale(1,1.035)" text-anchor="start" style="font-size:12.483px;letter-spacing:-0.490px;white-space:pre" xml:space="preserve" fill="#000">Center of Sources, deg:</text>
<text class="m" transform="translate(594.5,309) scale(1,1.035)" text-anchor="start" style="font-size:12.483px;letter-spacing:-0.490px;white-space:pre" xml:space="preserve" fill="#000">          Zenith</text>
<text class="m" transform="translate(790.6,309) scale(1,1.035)" text-anchor="end" style="font-size:12.483px;letter-spacing:-0.490px;white-space:pre" xml:space="preserve" fill="#000">3.5</text>
<text class="m" transform="translate(594.5,323) scale(1,1.035)" text-anchor="start" style="font-size:12.483px;letter-spacing:-0.490px;white-space:pre" xml:space="preserve" fill="#000">          Azimuth</text>
<text class="m" transform="translate(790.6,323) scale(1,1.035)" text-anchor="end" style="font-size:12.483px;letter-spacing:-0.490px;white-space:pre" xml:space="preserve" fill="#000">109</text>
<path d="M722.4 320.1C722.7 317.4 725.6 316.7 725.9 319.9" fill="none" stroke="#111" stroke-width="0.95"/><path d="M720.2 319.6L723 318.2L722.9 321.4Z" fill="#111"/>
<rect x="593" y="341" width="15.5" height="242" fill="url(#jet)"/>
<line x1="608.6" y1="341" x2="608.6" y2="583" stroke="#000" stroke-width="1.3"/>
<path d="M609 341.5h5.8M609 345.5h3.1M609 353.5h5.8M609 360.5h3.1M609 367.5h3.1M609 374.5h3.1M609 382.5h3.1M609 389.5h5.8M609 396.5h3.1M609 403.5h3.1M609 411.5h3.1M609 418.5h3.1M609 425.5h5.8M609 432.5h3.1M609 440.5h3.1M609 447.5h3.1M609 454.5h3.1M609 461.5h5.8M609 469.5h3.1M609 476.5h3.1M609 483.5h3.1M609 491.5h3.1M609 498.5h5.8M609 505.5h3.1M609 512.5h3.1M609 520.5h3.1M609 527.5h3.1M609 534.5h5.8M609 541.5h3.1M609 549.5h3.1M609 556.5h3.1M609 563.5h3.1M609 570.5h5.8M609 578.5h3.1M609 582.5h5.8" stroke="#000" stroke-width="1" fill="none"/>
<text class="s" x="617.5" y="345.3" text-anchor="start" style="font-size:10.8px;font-weight:bold;" fill="#000" textLength="18.5" lengthAdjust="spacingAndGlyphs">1.7</text>
<text class="s" x="617.5" y="393.3" text-anchor="start" style="font-size:10.8px;font-weight:bold;" fill="#000" textLength="18.5" lengthAdjust="spacingAndGlyphs">1.0</text>
<text class="s" x="617.5" y="429.3" text-anchor="start" style="font-size:10.8px;font-weight:bold;" fill="#000" textLength="18.5" lengthAdjust="spacingAndGlyphs">0.5</text>
<text class="s" x="617.5" y="465.3" text-anchor="start" style="font-size:10.8px;font-weight:bold;" fill="#000" textLength="7" lengthAdjust="spacingAndGlyphs">0</text>
<text class="s" x="617.5" y="502.3" text-anchor="start" style="font-size:10.8px;font-weight:bold;" fill="#000" textLength="23.5" lengthAdjust="spacingAndGlyphs">-0.5</text>
<text class="s" x="617.5" y="538.3" text-anchor="start" style="font-size:10.8px;font-weight:bold;" fill="#000" textLength="23.5" lengthAdjust="spacingAndGlyphs">-1.0</text>
<text class="s" x="617.5" y="586.3" text-anchor="start" style="font-size:10.8px;font-weight:bold;" fill="#000" textLength="23.5" lengthAdjust="spacingAndGlyphs">-1.7</text>
<text class="s" transform="translate(657,492.5) rotate(-90)" style="font-size:10.4px;font-weight:bold" textLength="53.5" lengthAdjust="spacingAndGlyphs">Doppler, Hz</text>
<path d="M668.8 402.5h8.5M673 398.5v8" stroke="#0000f0" stroke-width="1.1" fill="none"/>
<text class="s" x="682.5" y="405.7" text-anchor="start" style="font-size:10.3px;font-weight:bold;" fill="#0000f0" textLength="45" lengthAdjust="spacingAndGlyphs">Positive</text>
<circle cx="673" cy="522.8" r="2.6" fill="none" stroke="#f00000" stroke-width="1.1"/>
<text class="s" x="682.5" y="525.7" text-anchor="start" style="font-size:10.3px;font-weight:bold;" fill="#f00000" textLength="50.5" lengthAdjust="spacingAndGlyphs">Negative</text>
<text class="m" transform="translate(12,572) scale(1,1.035)" style="font-size:12.483px;letter-spacing:-0.490px;white-space:pre" xml:space="preserve"><tspan x="0" dy="0" style="font-style:italic">V</tspan><tspan x="7.6" dy="3.3" style="font-style:normal;font-size:10.236px">h</tspan><tspan x="14" dy="-3.3" style="font-style:normal"> = </tspan><tspan dy="0" style="font-style:italic">6</tspan><tspan dy="0" style="font-style:normal"> ± </tspan><tspan dy="0" style="font-style:italic">8</tspan><tspan dy="0" style="font-style:normal"> m/s</tspan></text>
<text class="m" transform="translate(12,592.5) scale(1,1.035)" style="font-size:12.483px;letter-spacing:-0.490px;white-space:pre" xml:space="preserve"><tspan x="0" dy="0" style="font-style:italic">Compass coordinates</tspan></text>
<text class="m" transform="translate(480.5,572) scale(1,1.035)" style="font-size:12.483px;letter-spacing:-0.490px;white-space:pre" xml:space="preserve"><tspan x="0" dy="0" style="font-style:italic">V</tspan><tspan x="7.6" dy="3.3" style="font-style:normal;font-size:10.236px">z</tspan><tspan x="14" dy="-3.3" style="font-style:normal"> = </tspan><tspan dy="0" style="font-style:italic">1</tspan><tspan dy="0" style="font-style:normal"> ± </tspan><tspan dy="0" style="font-style:italic">0</tspan><tspan dy="0" style="font-style:normal"> m/s</tspan></text>
<text class="m" transform="translate(419,592.5) scale(1,1.035)" style="font-size:12.483px;letter-spacing:-0.490px;white-space:pre" xml:space="preserve"><tspan x="0" dy="0" style="font-style:italic">Zenith: max 40°</tspan><tspan x="101.5" dy="0" style="font-style:italic">  step 5°</tspan></text>
<text class="s" x="654.5" y="592.7" text-anchor="start" style="font-size:9.3px;" fill="#000" textLength="89" lengthAdjust="spacingAndGlyphs">ShowSkymap v 1.0</text>
<text class="s" x="754" y="592.7" text-anchor="start" style="font-size:9.3px;" fill="#000" textLength="38.4" lengthAdjust="spacingAndGlyphs">SD v 5.0</text>
<path d="M39.4 13.3C33 10.3 24 11.3 17.3 17.2C11.3 22.8 9.2 32.5 14.4 42.9C12.6 35 14.2 27.3 19.2 21.2C23.8 15.8 30.3 13 39.4 13.3Z" fill="#3296be"/>
<text class="r" x="48.7" y="30.6" style="font-size:10.4px" fill="#35202c" stroke="#35202c" stroke-width="0.25" textLength="30.5" lengthAdjust="spacingAndGlyphs">Lowell</text>
<text class="s" x="19.4" y="42.9" style="font-size:10.6px" fill="#8c235a" stroke="#8c235a" stroke-width="0.3" textLength="60.3" lengthAdjust="spacingAndGlyphs">DIGISONDE</text>
</svg></body></html>
